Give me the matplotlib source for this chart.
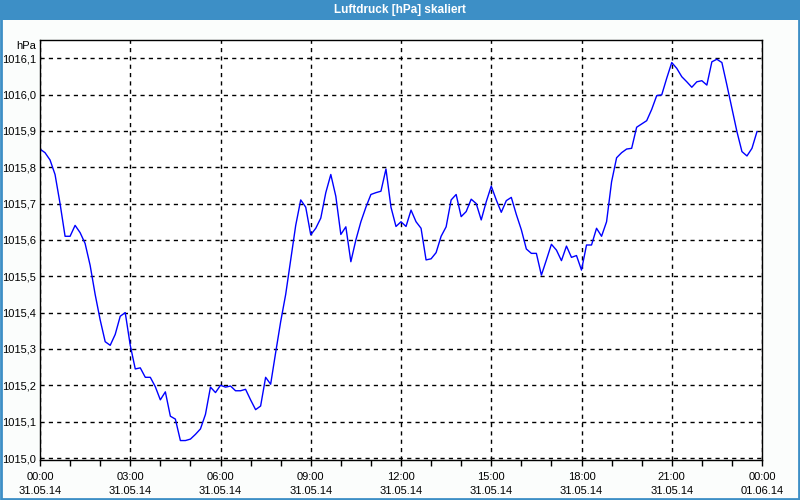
import numpy as np
import matplotlib
matplotlib.use("Agg")
from matplotlib import pyplot as plt
from matplotlib.patches import Rectangle

# air pressure, 10 minute steps from 31.05.14 00:00
pressure = [
    1015.850, 1015.840, 1015.820, 1015.780, 1015.700, 1015.610, 1015.610, 1015.640,
    1015.620, 1015.590, 1015.530, 1015.450, 1015.380, 1015.320, 1015.310, 1015.340,
    1015.390, 1015.400, 1015.310, 1015.245, 1015.248, 1015.222, 1015.222, 1015.196,
    1015.160, 1015.182, 1015.115, 1015.107, 1015.048, 1015.048, 1015.052, 1015.065,
    1015.080, 1015.120, 1015.195, 1015.180, 1015.200, 1015.195, 1015.198, 1015.185,
    1015.185, 1015.189, 1015.160, 1015.133, 1015.143, 1015.222, 1015.203, 1015.290,
    1015.375, 1015.450, 1015.545, 1015.640, 1015.710, 1015.690, 1015.614, 1015.632,
    1015.660, 1015.730, 1015.780, 1015.720, 1015.615, 1015.636, 1015.540, 1015.600,
    1015.650, 1015.690, 1015.725, 1015.730, 1015.734, 1015.795, 1015.690, 1015.637,
    1015.650, 1015.637, 1015.682, 1015.650, 1015.632, 1015.545, 1015.548, 1015.565,
    1015.610, 1015.636, 1015.710, 1015.725, 1015.664, 1015.678, 1015.712, 1015.700,
    1015.655, 1015.705, 1015.748, 1015.710, 1015.676, 1015.708, 1015.717, 1015.670,
    1015.628, 1015.575, 1015.563, 1015.563, 1015.503, 1015.545, 1015.588, 1015.572,
    1015.543, 1015.583, 1015.552, 1015.557, 1015.517, 1015.586, 1015.586, 1015.632,
    1015.610, 1015.650, 1015.760, 1015.826, 1015.840, 1015.850, 1015.852, 1015.910,
    1015.919, 1015.928, 1015.959, 1015.997, 1015.999, 1016.045, 1016.088, 1016.072,
    1016.049, 1016.035, 1016.020, 1016.035, 1016.038, 1016.026, 1016.090, 1016.097,
    1016.088, 1016.026, 1015.962, 1015.898, 1015.843, 1015.831, 1015.852, 1015.898,
]
hours = np.arange(len(pressure)) / 6.0

xtick_hours = [0, 3, 6, 9, 12, 15, 18, 21, 24]
xtick_labels = ["00:00\n31.05.14", "03:00\n31.05.14", "06:00\n31.05.14",
                "09:00\n31.05.14", "12:00\n31.05.14", "15:00\n31.05.14",
                "18:00\n31.05.14", "21:00\n31.05.14", "00:00\n01.06.14"]
ytick_values = [1015.0, 1015.1, 1015.2, 1015.3, 1015.4, 1015.5,
                1015.6, 1015.7, 1015.8, 1015.9, 1016.0, 1016.1]
ytick_labels = [("%.1f" % v).replace(".", ",") for v in ytick_values]

title = "Luftdruck [hPa] skaliert"
blue = "#3d8fc6"
bg = "#fbfdfc"

plt.rcParams['font.family'] = ['Liberation Sans', 'DejaVu Sans']
fig = plt.figure(figsize=(8, 5), dpi=100, facecolor=bg)

# title bar and outer border
fig.patches.append(Rectangle((0, 1 - 20 / 500), 1, 20 / 500, transform=fig.transFigure,
                             facecolor=blue, edgecolor='none', zorder=0))
fig.patches.append(Rectangle((0.001, 0.002), 0.998, 0.996, transform=fig.transFigure,
                             facecolor='none', edgecolor=blue, lw=2, zorder=1))
fig.text(0.5, 1 - 10 / 500, title, color='white', fontweight='bold', fontsize=8.5,
         ha='center', va='center')

ax = fig.add_axes([40 / 800, 40 / 500, 722 / 800, 420 / 500])
ax.set_facecolor('white')
ax.plot(hours, pressure, color='#0000ff', lw=1)

ax.set_xlim(0, 24)
ax.set_ylim(1014.9945, 1016.150)
ax.set_xticks(xtick_hours)
ax.set_xticklabels(xtick_labels, fontsize=8, linespacing=1.45)
ax.set_xticks(range(25), minor=True)
ax.set_yticks(ytick_values)
ax.set_yticklabels(ytick_labels, fontsize=8)
ax.tick_params(axis='x', which='both', length=4, width=1, color='black', pad=5)
ax.tick_params(axis='y', length=0, pad=3)

ax.grid(True, color='black', linestyle=(0, (3, 3)), lw=1)
for s in ax.spines.values():
    s.set_color('black')
    s.set_linewidth(1)

fig.text(36 / 800, 1 - 46 / 500, "hPa", fontsize=8, ha='right', va='center')

plt.savefig('out.png', dpi=100, facecolor=bg)
